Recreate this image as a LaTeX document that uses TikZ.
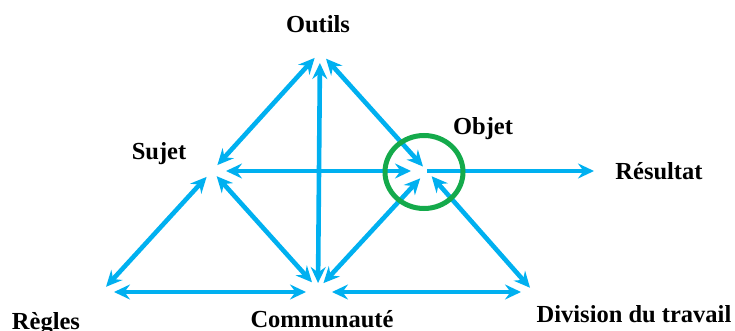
\documentclass[tikz,border=0pt]{standalone}
\usepackage{fontspec}
\setmainfont{Liberation Serif}
\usetikzlibrary{arrows.meta,shapes.geometric}
\definecolor{arrblue}{RGB}{0,176,240}
\definecolor{cgreen}{RGB}{20,170,75}
\begin{document}
\begin{tikzpicture}[x=1pt,y=-1pt,
  tip/.tip={Stealth[length=16pt,width=15pt,inset=5.5pt]},
  conn/.style={draw=arrblue, line width=4.6pt, {tip}-{tip}},
  oneway/.style={draw=arrblue, line width=4.6pt, -{tip}},
  lbl/.style={font=\fontsize{24.5}{28}\selectfont\bfseries, anchor=base, inner sep=0pt}]
\useasboundingbox (0,0) rectangle (735,331);
% vertices
\coordinate (vO) at (320,52);
\coordinate (vS) at (212,171);
\coordinate (vB) at (427,171);
\coordinate (vR) at (104,289);
\coordinate (vC) at (318,289);
\coordinate (vD) at (532,290);
\coordinate (vRes) at (594,171);
% connectors
\draw[conn, shorten <=8pt, shorten >=8pt] (vO) -- (vS);
\draw[conn, shorten <=9pt, shorten >=6pt] (vO) -- (vB);
\draw[conn, shorten <=11pt, shorten >=6pt] (vO) -- (vC);
\draw[conn, shorten <=14pt, shorten >=16pt] (vS) -- (vB);
\draw[oneway] (vB) -- (vRes);
\draw[conn, shorten <=8pt, shorten >=3pt] (vS) -- (vR);
\draw[conn, shorten <=7pt, shorten >=9pt] (vS) -- (vC);
\draw[conn, shorten <=8pt, shorten >=10pt] (vC) -- (vB);
\draw[conn, shorten <=7pt, shorten >=3pt] (vB) -- (vD);
\draw[conn, shorten <=10pt, shorten >=12pt] ([yshift=-3pt]vR) -- ([yshift=-3pt]vC);
\draw[conn, shorten <=14pt, shorten >=11pt] ([yshift=-3pt]vC) -- ([yshift=-2pt]vD);
% focus ellipse
\node[draw=cgreen, line width=5pt, ellipse, minimum width=78pt, minimum height=73pt, inner sep=0pt] (focus) at (424,172) {};
% labels
\node[lbl] (tO) at (318,33) {Outils};
\node[lbl] (tS) at (159,160) {Sujet};
\node[lbl] (tB) at (483,135) {Objet};
\node[lbl] (tRes) at (659,179) {Résultat};
\node[lbl] (tR) at (46,329) {Règles};
\node[lbl] (tC) at (322,327) {Communauté};
\node[lbl] (tD) at (634,322) {Division du travail};
\end{tikzpicture}
\end{document}
